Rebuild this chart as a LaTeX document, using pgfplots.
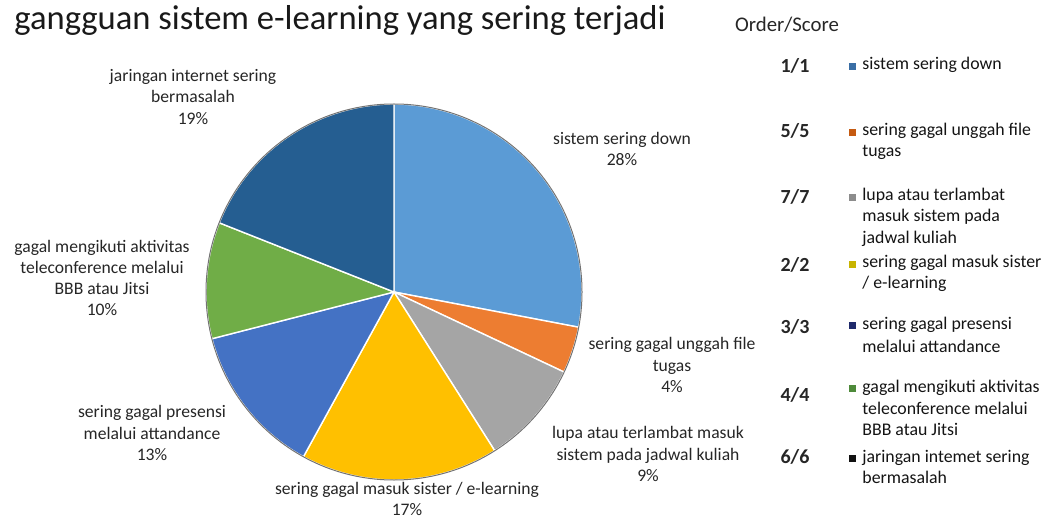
\documentclass[border=0pt]{standalone}
\usepackage{pgfplots}
\pgfplotsset{compat=1.18}
\usepackage{pgfplotstable}
\usepackage{fontspec}
\setmainfont{Carlito}
\definecolor{cA}{HTML}{5B9BD5}
\definecolor{cB}{HTML}{ED7D31}
\definecolor{cC}{HTML}{A5A5A5}
\definecolor{cD}{HTML}{FFC000}
\definecolor{cE}{HTML}{4472C4}
\definecolor{cF}{HTML}{70AD47}
\definecolor{cG}{HTML}{255E91}
\definecolor{lA}{HTML}{3A6EA5}
\definecolor{lB}{HTML}{C55A11}
\definecolor{lC}{HTML}{8C8C8C}
\definecolor{lD}{HTML}{C8B400}
\definecolor{lE}{HTML}{1F2A6B}
\definecolor{lF}{HTML}{4E8A3A}
\definecolor{lG}{HTML}{111111}
\definecolor{txt}{HTML}{262626}
\pgfplotstableread{
pct
28
4
9
17
13
10
19
}\piedata
\begin{document}
\begin{tikzpicture}[
  lbl/.style={font={\fontsize{8.8}{10.6}\selectfont}, align=center, text=txt, inner sep=0pt},
  leg/.style={font={\fontsize{8.9}{10.7}\selectfont}, text=black!92, inner sep=0pt, anchor=base west},
  num/.style={font={\fontsize{10}{10}\selectfont\bfseries}, text=txt, inner sep=0pt},
]
\begin{axis}[
  width=521pt, height=260pt, scale only axis,
  xmin=0, xmax=1042, ymin=0, ymax=520,
  hide axis, clip=false,
]
\def\cum{90}
\pgfplotsextra{%
  \foreach \i/\col in {0/cA,1/cB,2/cC,3/cD,4/cE,5/cF,6/cG}{%
    \pgfplotstablegetelem{\i}{pct}\of\piedata
    \pgfmathsetmacro\sweep{3.6*\pgfplotsretval}
    \pgfmathsetmacro\endang{\cum-\sweep}
    \fill[\col, draw=white, line width=0.7pt] (axis cs:394,228) -- ++(\cum:94pt)
      arc[start angle=\cum, end angle=\endang, radius=94pt] -- cycle;
    \xdef\cum{\endang}
  }
  \draw[black!55, line width=0.5pt] (axis cs:394,228) circle[radius=94pt];
}
% title
\node[anchor=west, inner sep=0pt, font={\fontsize{17.3}{17.3}\selectfont}, text=black!90] at (axis cs:14,500) {gangguan sistem e-learning yang sering terjadi};
% slice labels
\node[lbl] at (axis cs:622,371) {sistem sering down\\28\%};
\node[lbl] at (axis cs:672,155) {sering gagal unggah file\\tugas\\4\%};
\node[lbl] at (axis cs:648,66) {lupa atau terlambat masuk\\sistem pada jadwal kuliah\\9\%};
\node[lbl] at (axis cs:407,21) {sering gagal masuk sister / e-learning\\17\%};
\node[lbl] at (axis cs:152,87) {sering gagal presensi\\melalui attandance\\13\%};
\node[lbl] at (axis cs:102,242) {gagal mengikuti aktivitas\\teleconference melalui\\BBB atau Jitsi\\10\%};
\node[lbl] at (axis cs:193,423) {jaringan internet sering\\bermasalah\\19\%};
% legend
\node[inner sep=0pt, font={\fontsize{10.4}{10.4}\selectfont}, text=txt] at (axis cs:787,495) {Order/Score};
\node[num] at (axis cs:795,454) {1/1};
\node[num] at (axis cs:795,389) {5/5};
\node[num] at (axis cs:795,323) {7/7};
\node[num] at (axis cs:795,255) {2/2};
\node[num] at (axis cs:795,193) {3/3};
\node[num] at (axis cs:795,125) {4/4};
\node[num] at (axis cs:795,63) {6/6};
\fill[lA] (axis cs:849,450) rectangle (axis cs:856,457);
\fill[lB] (axis cs:849,384) rectangle (axis cs:856,391);
\fill[lC] (axis cs:849,319) rectangle (axis cs:856,326);
\fill[lD] (axis cs:849,252) rectangle (axis cs:856,259);
\fill[lE] (axis cs:849,191) rectangle (axis cs:856,198);
\fill[lF] (axis cs:849,128) rectangle (axis cs:856,135);
\fill[lG] (axis cs:849,58) rectangle (axis cs:856,65);
\node[leg] at (axis cs:862,450) {sistem sering down};
\node[leg] at (axis cs:862,384) {sering gagal unggah file};
\node[leg] at (axis cs:862,363) {tugas};
\node[leg] at (axis cs:862,319) {lupa atau terlambat};
\node[leg] at (axis cs:862,298) {masuk sistem pada};
\node[leg] at (axis cs:862,276) {jadwal kuliah};
\node[leg] at (axis cs:862,252) {sering gagal masuk sister};
\node[leg] at (axis cs:862,231) {/ e-learning};
\node[leg] at (axis cs:862,191) {sering gagal presensi};
\node[leg] at (axis cs:862,168) {melalui attandance};
\node[leg] at (axis cs:862,128) {gagal mengikuti aktivitas};
\node[leg] at (axis cs:862,106) {teleconference melalui};
\node[leg] at (axis cs:862,85) {BBB atau Jitsi};
\node[leg] at (axis cs:862,58) {jaringan intemet sering};
\node[leg] at (axis cs:862,37) {bermasalah};
\end{axis}
\pgfresetboundingbox
\path (0,0) rectangle (521pt,260pt);
\end{tikzpicture}
\end{document}
